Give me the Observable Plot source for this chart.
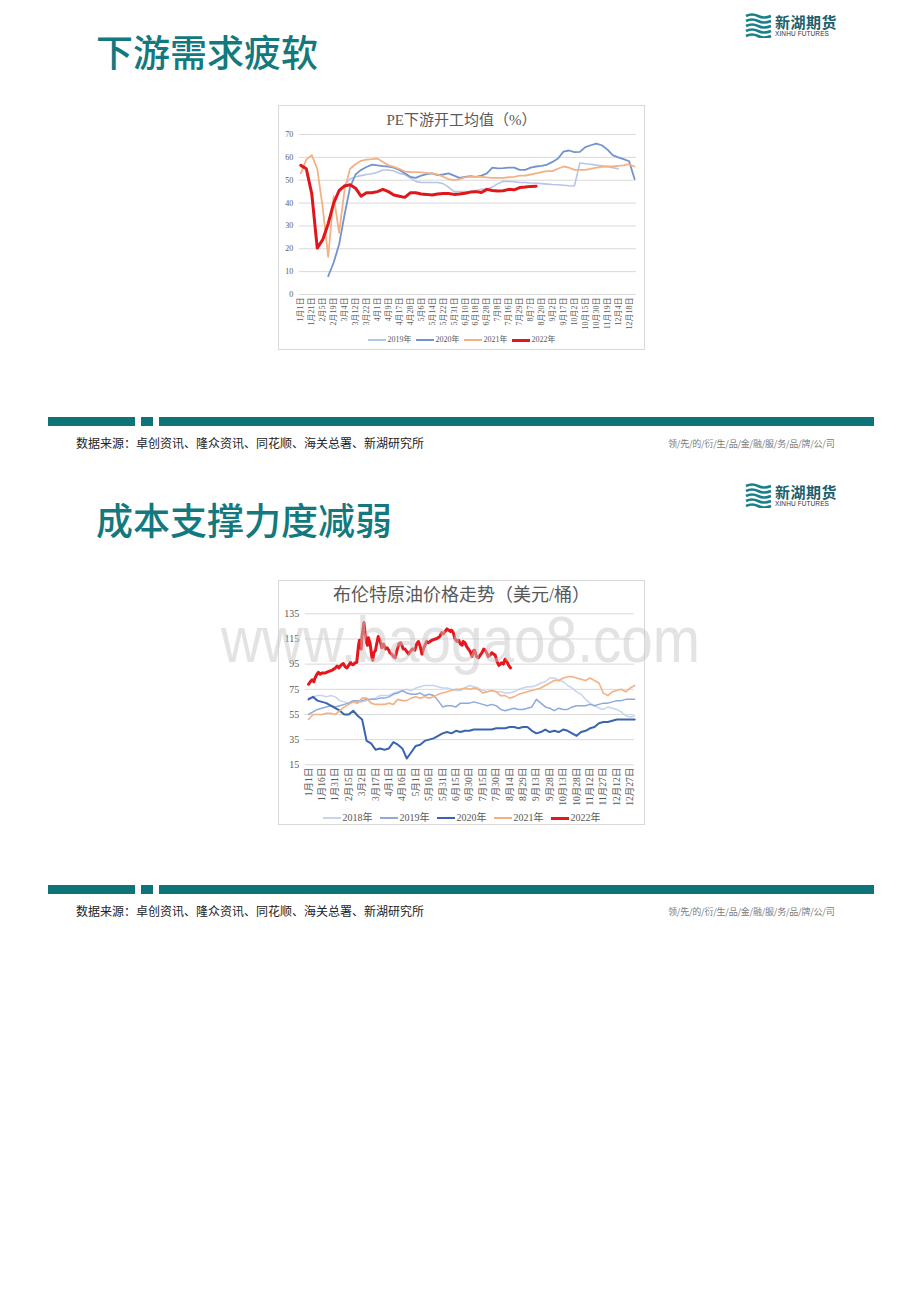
<!DOCTYPE html>
<html><head><meta charset="utf-8">
<script src="https://cdn.jsdelivr.net/npm/d3@7"></script>
<script src="https://cdn.jsdelivr.net/npm/@observablehq/plot@0.6"></script>
<style>
body{margin:0;background:#fff;}
#page{position:relative;width:920px;height:1302px;overflow:hidden;background:#fff;font-family:"Noto Sans CJK SC",sans-serif;}
.title{position:absolute;left:96px;color:#13797e;font-size:37px;font-family:"Noto Sans CJK SC",sans-serif;font-weight:500;line-height:1;white-space:nowrap;}
.bar{position:absolute;height:9px;background:#0e747a;}
.src{position:absolute;left:76px;font-size:12px;line-height:1;color:#222;font-family:"Noto Sans CJK SC",sans-serif;white-space:nowrap;}
.slogan{position:absolute;left:668px;font-size:9px;line-height:1;color:#7a7a7a;white-space:nowrap;letter-spacing:-0.2px;}
.frame{position:absolute;left:278px;width:365px;height:243px;border:1px solid #d9d9d9;background:#fff;}
.frame svg.plot{position:absolute;left:0;top:0;}
.ctitle{position:absolute;left:0;right:0;text-align:center;color:#595959;line-height:1;font-family:"Liberation Serif","Noto Sans CJK SC",serif;}
.legend{position:absolute;left:0;right:0;display:flex;justify-content:center;align-items:center;color:#595959;line-height:1;font-family:"Liberation Serif","Noto Sans CJK SC",serif;}
.legend .it{display:flex;align-items:center;}
.legend .sw{display:inline-block;}
.logo{position:absolute;left:745px;width:95px;height:26px;}
.logo .cn{position:absolute;left:30px;top:1px;font-size:15px;font-weight:700;color:#1c5f6a;letter-spacing:0.5px;line-height:1;white-space:nowrap;}
.logo .en{position:absolute;left:30px;top:18px;font-size:6.5px;color:#333;line-height:1;white-space:nowrap;font-family:"Liberation Sans",sans-serif;letter-spacing:0.1px;}
#wm{position:absolute;left:0;top:0;pointer-events:none;}
</style>
</head>
<body>
<div id="page">
  <div class="title" style="top:33px">下游需求疲软</div>
  <div class="logo" style="top:13px"><svg width="27" height="25" viewBox="0 0 27 25">
    <g fill="none" stroke="#17808a" stroke-width="2.6">
      <path d="M1 3 Q7 0 13 3 T26 3"/><path d="M1 8 Q7 5 13 8 T26 8"/><path d="M1 13 Q7 10 13 13 T26 13"/><path d="M1 18 Q7 15 13 18 T26 18"/><path d="M1 23 Q7 20 13 23 T26 23"/>
    </g></svg>
    <div class="cn">新湖期货</div><div class="en">XINHU FUTURES</div></div>
  <div class="frame" id="f1" style="top:105px">
    <div class="ctitle" style="top:7px;font-size:15px;">PE下游开工均值（%）</div>
    <div class="legend" id="lg1" style="top:230px;font-size:8px;"></div>
  </div>
  <div class="bar" style="top:417px;left:48px;width:87px"></div>
  <div class="bar" style="top:417px;left:141px;width:12px"></div>
  <div class="bar" style="top:417px;left:159px;width:715px"></div>
  <div class="src" style="top:437px">数据来源：卓创资讯、隆众资讯、同花顺、海关总署、新湖研究所</div>
  <div class="slogan" style="top:439px">领/先/的/衍/生/品/金/融/服/务/品/牌/公/司</div>

  <div class="title" style="top:501px">成本支撑力度减弱</div>
  <div class="logo" style="top:483px"><svg width="27" height="25" viewBox="0 0 27 25">
    <g fill="none" stroke="#17808a" stroke-width="2.6">
      <path d="M1 3 Q7 0 13 3 T26 3"/><path d="M1 8 Q7 5 13 8 T26 8"/><path d="M1 13 Q7 10 13 13 T26 13"/><path d="M1 18 Q7 15 13 18 T26 18"/><path d="M1 23 Q7 20 13 23 T26 23"/>
    </g></svg>
    <div class="cn">新湖期货</div><div class="en">XINHU FUTURES</div></div>
  <div class="frame" id="f2" style="top:580px">
    <div class="ctitle" style="top:5px;font-size:18px;">布伦特原油价格走势（美元/桶）</div>
    <div class="legend" id="lg2" style="top:232px;font-size:10px;"></div>
  </div>
  <div class="bar" style="top:885px;left:48px;width:87px"></div>
  <div class="bar" style="top:885px;left:141px;width:12px"></div>
  <div class="bar" style="top:885px;left:159px;width:715px"></div>
  <div class="src" style="top:905px">数据来源：卓创资讯、隆众资讯、同花顺、海关总署、新湖研究所</div>
  <div class="slogan" style="top:907px">领/先/的/衍/生/品/金/融/服/务/品/牌/公/司</div>

  <svg id="wm" width="920" height="1302"><text x="221" y="662" textLength="479" lengthAdjust="spacingAndGlyphs" font-family="Liberation Sans, Arial, sans-serif" font-size="64" fill="#c8c8c8" fill-opacity="0.5">www.baogao8.com</text></svg>
</div>
<script>
// ---------- Chart 1: PE下游开工均值（%） ----------
const peLabels = ["1月1日","1月21日","2月5日","2月19日","3月4日","3月12日","3月22日","4月1日","4月9日","4月17日","4月28日","5月6日","5月14日","5月22日","5月31日","6月10日","6月18日","6月28日","7月8日","7月16日","7月29日","8月7日","8月20日","9月2日","9月17日","10月2日","10月15日","10月30日","11月19日","12月4日","12月18日"];
const peYTicks = [0,10,20,30,40,50,60,70];
const pe2019 = [null,null,null,null,null,null,null,null,48,50.5,51.5,52,52.5,52.8,53.5,54.5,54.5,54,53,52.5,51,49.5,49,49,49,49,48.5,47,45,45,45,45,45.5,46,46,47,48.5,49.5,49.5,49.3,49,49,48.8,48.7,48.5,48.3,48.1,48,47.8,47.6,47.5,57.5,57.2,57,56.6,56.3,56,55.5,55,null,null,null];
const pe2020 = [null,null,null,null,null,8,14,22,35,47,52.5,54.5,55.8,56.8,56.5,56.2,56,55.5,54.5,53,51.5,51,52,52.7,53,52.2,52.5,53,52,51,51.5,51.8,51.5,52,53,55.5,55.2,55.3,55.5,55.5,54.5,54.5,55.5,56,56.3,56.8,58,59.5,62.5,63,62.3,62.4,64.5,65.3,66,65.3,63.5,61,60,59.2,58.3,50.5];
const pe2021 = [53,59,61,55,38,16.5,43,27,46,55,57,58.5,59,59.2,59.5,58,56.5,55.8,55,53.8,53.6,53.5,53.4,53.2,53,52.5,51.5,50.5,50,50.5,51.2,51.5,51.5,51.5,51.2,51,51,51,51.3,51.5,52,52,52.5,53,53.5,54,54,55,56,55.5,54.5,54.5,54.5,55,55.5,55.8,56,56,56.3,56.5,57,56];
const pe2022 = [56.5,55,44,20.3,24,31,40,45.5,47.5,48,46.5,43,44.5,44.5,45,46,45,43.5,43,42.5,44.5,44.5,44,43.8,43.5,44,44.2,44.2,43.8,44,44.3,44.8,45,44.6,46,45.5,45.3,45.4,46,45.8,46.8,47,47.3,47.4];
const peSeries = [
  {name:"2019年", values:pe2019, color:"#b4c6e7", width:1.6},
  {name:"2020年", values:pe2020, color:"#7393cf", width:1.8},
  {name:"2021年", values:pe2021, color:"#f4b183", width:1.8},
  {name:"2022年", values:pe2022, color:"#e0161b", width:3}
];

// ---------- Chart 2: 布伦特原油价格走势（美元/桶） ----------
const oilLabels = ["1月1日","1月16日","1月31日","2月15日","3月2日","3月17日","4月1日","4月16日","5月1日","5月16日","5月31日","6月15日","6月30日","7月15日","7月30日","8月14日","8月29日","9月13日","9月28日","10月13日","10月28日","11月12日","11月27日","12月12日","12月27日"];
const oilYTicks = [15,35,55,75,95,115,135];
// 2018-2021: read every 5 days from 1月1日
const oil2018 = [68,69,70,70,69,70,69,66,65,64, 66,65,65,66,67,68,70,70,70,72, 73,74,75,74,76,77,78,78,78,77, 76,76,75,74,74,76,78,77,76,74, 73,74,73,73,72,72,73,75,76,77, 77,78,80,81,84,84,82,81,78,76, 73,71,67,64,62,60,59,61,60,59, 57,54,53,54];
const oil2019 = [55,57,59,60,61,62,61,62,63,64, 66,66,66,67,67,67,68,68,69,71, 72,74,72,71,71,72,70,71,70,66, 61,62,62,61,64,64,64,65,64,63, 62,63,62,59,58,59,60,59,59,60, 61,67,64,61,60,58,60,59,59,61, 62,62,62,63,62,63,64,64,65,66, 66,67,67,67];
const oil2020 = [67,69,66,65,64,62,60,58,55,55, 58,54,51,34,32,27,28,27,28,33, 31,28,20,25,30,31,34,35,36,38, 40,41,40,42,41,42,42,43,43,43, 43,43,44,44,44,45,45,44,45,45, 42,40,41,43,41,42,41,43,42,40, 38,41,42,44,45,48,49,49,50,51, 51,51,51,51];
const oil2021 = [51,55,55,55,56,56,55,58,61,63, 65,64,68,68,64,63,63,63,64,63, 67,66,66,68,69,68,69,68,69,71, 72,73,74,75,75,76,75,76,75,72, 73,74,73,70,70,68,69,71,72,73, 74,75,76,78,80,82,82,84,85,85, 84,83,82,84,82,80,72,70,73,74, 75,73,76,78];
const oil2022Days = [0,2,4,6,7,9,11,13,15,19, 22,26,30,32,34,35,37,39,41,43, 45,47,48,50,52,54,56,57,59,60, 62,63,65,66,67,69,71,72,73,75, 76,78,80,82,84,86,88,90,91,93, 95,97,99,101,103,104,106,108,110,112, 114,116,117,119,121,123,125,127,129,131, 132,134,136,138,140,142,144,145,147,149, 151,153,155,157,159,160,162,164,166,168, 170,172,173,175,177,179,181,183,185,186, 188,190,192,194,196,198,200,201,203,205, 207,209,211,213,214,216,218,220,222,224, 226];
const oil2022 = [79,81,82.5,81,83.5,86.5,88.5,87,88,88, 89,90,92,93.5,92,93,94.5,95.5,93,92, 94,96.5,95,94.5,96,96.5,110,114,107,118, 128,122,112,110,116,111,100,98,104,106, 110,117,114,108,111,107,108,106,104,103, 101,100,106,111,112,111,107,107,105,103, 105,107,107,106,111,113,109,103,108,111, 113,112,113,114,114.5,115,115.5,116,117,120, 119,121,123,122,121,122,120,115,113,114, 111,110,113,112,109,107,105,101,106,106, 101,100,102,104,107,106,103,101,102,104, 103,102,97,94,94.5,96,95,99,97,94, 92];
const oilSeries = [
  {name:"2018年", rows:oil2018.map((v,k)=>({d:k*5,v})), color:"#c7d4ee", width:1.5},
  {name:"2019年", rows:oil2019.map((v,k)=>({d:k*5,v})), color:"#8ea9db", width:1.5},
  {name:"2020年", rows:oil2020.map((v,k)=>({d:k*5,v})), color:"#3a64b0", width:2},
  {name:"2021年", rows:oil2021.map((v,k)=>({d:k*5,v})), color:"#f4b183", width:1.6},
  {name:"2022年", rows:oil2022.map((v,k)=>({d:oil2022Days[k],v})), color:"#e8161b", width:3}
];

const labFont = '"Liberation Serif","Noto Sans CJK SC",serif';

// Chart 1 plot
const peRows = peSeries.map(s => s.values.map((v,i)=>({i, v})).filter(r => r.v != null));
const p1 = Plot.plot({
  width: 365, height: 230,
  marginLeft: 19.7, marginRight: 8, marginTop: 28, marginBottom: 42,
  style: {fontFamily: labFont, fontSize: "8px", color: "#595959", background: "transparent"},
  x: {domain: [-0.3, 61.35], label: null},
  y: {domain: [0, 70], label: null},
  marks: [
    Plot.gridY(peYTicks, {stroke: "#d9d9d9", strokeOpacity: 1}),
    Plot.axisY(peYTicks, {tickSize: 0, tickPadding: 6, fill: "#595959", label: null}),
    Plot.axisX(peLabels.map((_, k) => k * 2), {tickSize: 0, tickPadding: 3, tickRotate: -90, fill: "#595959", label: null, tickFormat: d => peLabels[d / 2]}),
    ...peSeries.map((s, k) => Plot.line(peRows[k], {x: "i", y: "v", stroke: s.color, strokeWidth: s.width, strokeLinejoin: "round"}))
  ]
});
p1.classList.add("plot");
document.getElementById("f1").appendChild(p1);

// Chart 2 plot
const p2 = Plot.plot({
  width: 365, height: 228,
  marginLeft: 25.7, marginRight: 10, marginTop: 32.3, marginBottom: 44.7,
  style: {fontFamily: labFont, fontSize: "9.5px", color: "#595959", background: "transparent"},
  x: {domain: [-3.7, 364.8], label: null},
  y: {domain: [15, 135], label: null},
  marks: [
    Plot.gridY(oilYTicks, {stroke: "#d9d9d9", strokeOpacity: 1}),
    Plot.axisY(oilYTicks, {tickSize: 0, tickPadding: 6, fill: "#595959", fontSize: 10, label: null}),
    Plot.axisX(oilLabels.map((_, k) => k * 15), {tickSize: 0, tickPadding: 3, tickRotate: -90, fill: "#595959", label: null, tickFormat: d => oilLabels[d / 15]}),
    ...oilSeries.map(s => Plot.line(s.rows, {x: "d", y: "v", stroke: s.color, strokeWidth: s.width, strokeLinejoin: "round"}))
  ]
});
p2.classList.add("plot");
document.getElementById("f2").appendChild(p2);

// Legends
function legend(el, series, swW, gap) {
  series.forEach(s => {
    const it = document.createElement("div"); it.className = "it"; it.style.marginRight = gap + "px";
    const sw = document.createElement("span"); sw.className = "sw";
    sw.style.width = swW + "px"; sw.style.height = Math.max(1.5, s.width) + "px"; sw.style.background = s.color; sw.style.marginRight = "2px";
    const tx = document.createElement("span"); tx.textContent = s.name;
    it.appendChild(sw); it.appendChild(tx); el.appendChild(it);
  });
  el.lastChild.style.marginRight = "0px";
}
legend(document.getElementById("lg1"), peSeries, 18, 4);
legend(document.getElementById("lg2"), oilSeries, 18, 7);
document.querySelectorAll(".legend,.ctitle").forEach(e => e.parentNode.appendChild(e));
</script>
</body></html>
